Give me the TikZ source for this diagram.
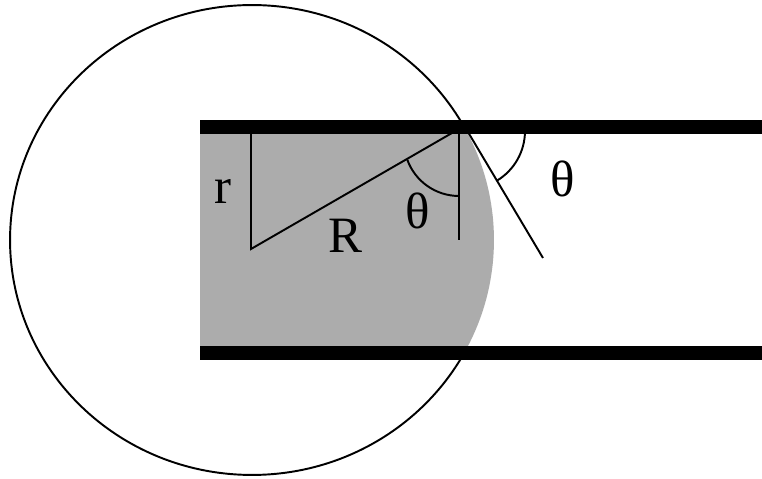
\documentclass[tikz,border=0pt]{standalone}
\usepackage{fontspec}
\setmainfont{Liberation Serif}
\usepackage{tikz}
\usetikzlibrary{calc}
\definecolor{liquidgray}{RGB}{172,172,172}

\begin{document}
\begin{tikzpicture}[x=0.02cm, y=-0.02cm, line width=1.1pt, font=\fontsize{29}{34}\selectfont]
  \useasboundingbox (0,0) rectangle (762,479);
  \def\rx{4.84cm}\def\ry{4.70cm}            % drop radii
  % ---- key points (pixel grid, y pointing down) ----
  \coordinate (O) at (252,240);             % drop centre
  \coordinate (apex) at (251,249);          % triangle corner
  \coordinate (rtop) at (251,134);
  \coordinate (Rtop) at (452,133);
  \coordinate (wtop) at (459,134);          % wall normal
  \coordinate (wbot) at (459,240);
  \coordinate (ttop) at (465,127);          % tangent at contact line
  \coordinate (tbot) at (543,258);
  % ---- drop outline, kept outside the tube ----
  \draw (O) ellipse [x radius=\rx, y radius=\ry];
  \fill[white] (200,134) rectangle (762,346);
  \begin{scope}
    \clip (200,134) rectangle (762,346);
    \fill[liquidgray] (O) ellipse [x radius=\rx, y radius=\ry];
  \end{scope}
  % ---- geometry: r, R and the contact angle ----
  \draw (rtop) -- (apex) -- (Rtop);
  \draw (wtop) -- (wbot);
  \draw (459,141) ++(270:1.1cm) arc[start angle=270, end angle=200, radius=1.1cm];
  \draw (ttop) -- (tbot);
  \draw (467,131) ++(0:1.16cm) arc[start angle=0, end angle=-59, radius=1.16cm];
  % tube walls
  \fill (200,120) rectangle (762,134);
  \fill (200,346) rectangle (762,360);
  % labels
  \node (lr) at (223,192) {r};
  \node (lR) at (345,236) {R};
  \node (thin) at (418,211) {θ};
  \node (thout) at (563,179) {θ};
\end{tikzpicture}
\end{document}
